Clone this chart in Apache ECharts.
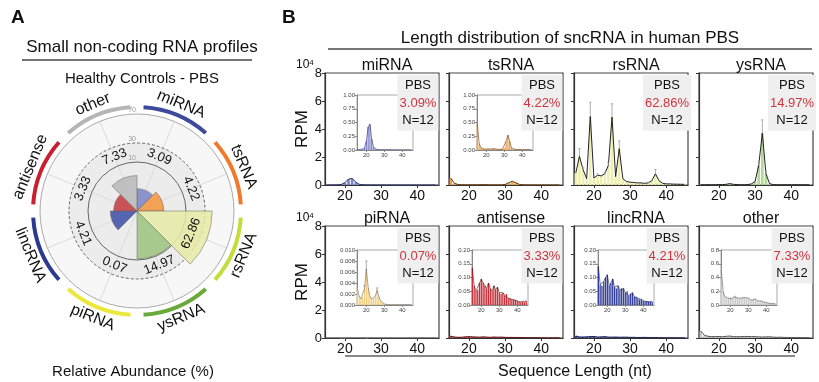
<!DOCTYPE html>
<html>
<head>
<meta charset="utf-8">
<script src="https://cdn.jsdelivr.net/npm/echarts@6/dist/echarts.min.js"></script>
<style>
  html, body { margin: 0; padding: 0; background: #fff; }
  #chart { width: 819px; height: 382px; }
</style>
</head>
<body>
<div id="chart"></div>
<script>
// ---- panel A: relative abundance (%) ----
const polarCats = ['miRNA', 'tsRNA', 'rsRNA', 'ysRNA', 'piRNA', 'lincRNA', 'antisense', 'other']
const polarValues = [3.09, 4.22, 62.86, 14.97, 0.07, 4.21, 3.33, 7.33]
const ringValues = [10, 30, 70]

// ---- panel B: length distribution, RPM x10^4 ----
const lengths = [15, 16, 17, 18, 19, 20, 21, 22, 23, 24, 25, 26, 27, 28, 29, 30,
  31, 32, 33, 34, 35, 36, 37, 38, 39, 40, 41, 42, 43, 44, 45]
const miRNA = [0.004, 0.004, 0.006, 0.015, 0.04, 0.16, 0.42, 0.47, 0.2, 0.05, 0.015, 0.008, 0.006, 0.005, 0.004, 0.004,
  0.003, 0.003, 0.003, 0.003, 0.002, 0.002, 0.002, 0.002, 0.002, 0.002, 0.002, 0.002, 0.002, 0.002, 0.002]
const tsRNA = [0.48, 0.12, 0.04, 0.02, 0.015, 0.015, 0.02, 0.015, 0.02, 0.035, 0.02, 0.01, 0.01, 0.012, 0.015, 0.04,
  0.16, 0.27, 0.16, 0.04, 0.015, 0.01, 0.008, 0.008, 0.008, 0.006, 0.006, 0.006, 0.005, 0.005, 0.005]
const rsRNA = [0.85, 2.05, 1.1, 0.45, 4.9, 0.5, 0.7, 0.65, 0.8, 1.4, 4.85, 0.6, 2.6, 0.45, 0.25, 0.2,
  0.18, 0.15, 0.15, 0.12, 0.15, 0.3, 0.8, 0.3, 0.12, 0.08, 0.08, 0.06, 0.06, 0.05, 0.05]
const rsRNAErr = [0.1, 0.55, 0.15, 0, 1.0, 0, 0.1, 0, 0.1, 0.2, 0.95, 0, 0.55, 0, 0, 0,
  0, 0, 0, 0, 0.05, 0.05, 0.3, 0.05, 0, 0, 0, 0, 0, 0, 0]
const ysRNA = [0.02, 0.02, 0.02, 0.02, 0.02, 0.03, 0.03, 0.05, 0.1, 0.05, 0.03, 0.02, 0.02, 0.03, 0.08, 0.25,
  1.4, 3.7, 0.8, 0.1, 0.03, 0.02, 0.02, 0.02, 0.02, 0.02, 0.02, 0.02, 0.02, 0.02, 0.02]
const ysRNAErr = [0, 0, 0, 0, 0, 0, 0, 0, 0, 0, 0, 0, 0, 0, 0, 0,
  0.3, 0.95, 0.2, 0, 0, 0, 0, 0, 0, 0, 0, 0, 0, 0, 0]
const piRNA = [0.003, 0.0016, 0.0011, 0.0014, 0.003, 0.0066, 0.0032, 0.0016, 0.0011, 0.0012, 0.0016, 0.0027, 0.0015, 0.0007, 0.0004, 0.0002,
  0.0001, 0.00005, 0.00005, 0.00005, 0.00005, 0.00005, 0.00005, 0.00005, 0.00005, 0.00005, 0.00005, 0.00005, 0.00005, 0.00005, 0.00005]
const piRNAErr = [0, 0, 0, 0, 0.0005, 0.0014, 0, 0, 0, 0, 0, 0.0004, 0, 0, 0, 0,
  0, 0, 0, 0, 0, 0, 0, 0, 0, 0, 0, 0, 0, 0, 0]
const antisense = [0.135, 0.07, 0.05, 0.055, 0.08, 0.095, 0.08, 0.07, 0.06, 0.08, 0.06, 0.05, 0.07, 0.055, 0.065, 0.045,
  0.04, 0.045, 0.035, 0.04, 0.025, 0.025, 0.02, 0.02, 0.018, 0.015, 0.012, 0.01, 0.012, 0.01, 0.015]
const lincRNA = [0.14, 0.075, 0.07, 0.085, 0.1, 0.11, 0.07, 0.08, 0.095, 0.065, 0.06, 0.07, 0.055, 0.06, 0.06, 0.045,
  0.05, 0.035, 0.04, 0.045, 0.03, 0.03, 0.025, 0.02, 0.02, 0.015, 0.013, 0.015, 0.012, 0.012, 0.012]
const other = [0.5, 0.19, 0.12, 0.1, 0.1, 0.11, 0.09, 0.12, 0.14, 0.1, 0.09, 0.1, 0.11, 0.11, 0.1, 0.1,
  0.08, 0.07, 0.08, 0.09, 0.06, 0.05, 0.06, 0.04, 0.04, 0.03, 0.03, 0.025, 0.02, 0.02, 0.02]

const panelNames = ['miRNA', 'tsRNA', 'rsRNA', 'ysRNA', 'piRNA', 'antisense', 'lincRNA', 'other']
const panelShares = ['3.09%', '4.22%', '62.86%', '14.97%', '0.07%', '3.33%', '4.21%', '7.33%']
const panelN = 'N=12'
const xTicks = [20, 30, 40]
// inset y ranges: [max, interval, decimals]
const insetAxes = {
  miRNA: [1, 0.25, 2], tsRNA: [1, 0.25, 2], piRNA: [0.01, 0.002, 3],
  antisense: [0.2, 0.05, 2], lincRNA: [0.2, 0.05, 2], other: [0.8, 0.2, 1]
}

const rpm = { miRNA, tsRNA, rsRNA, ysRNA, piRNA, antisense, lincRNA, other }
const errs = { rsRNA: rsRNAErr, ysRNA: ysRNAErr, piRNA: piRNAErr }

// styles
const FONT = '"Liberation Sans", Arial, sans-serif'
const fillColors = {
  miRNA: '#7f86c8', tsRNA: '#f5a04b', rsRNA: '#eef0b0', ysRNA: '#b4d896',
  piRNA: '#f2cf80', antisense: '#c9303a', lincRNA: '#34409a', other: '#c8c8c8'
}
const lineColors = {
  miRNA: '#2b3170', tsRNA: '#6b3d10', rsRNA: '#222', ysRNA: '#222',
  piRNA: '#666', antisense: '#5a1015', lincRNA: '#1a1f50', other: '#555'
}
const sectorColors = ['#7c85c8', '#f4943c', '#e6eba4', '#9ec47e', '#e8e060', '#3c4ea6', '#c2393e', '#b8b8b8']
const arcColors = ['#3d4a9c', '#f07a2c', '#c6dc3c', '#6aaa3a', '#ebe83a', '#2b3990', '#c8202f', '#b5b5b5']

const colLeft = [325, 449, 574, 699]
const rowTop = [73, 226]
const panelW = 114, panelH = 112
const insetLeft = [357, 477, null, null, 357, 472, 598, 721]
const insetTop = [95, 250]
const CX = 137, CY = 211
const ringRadii = [49, 68, 97]

// sector radius in px (compressed scale like the reference)
const toRadius = v => 20 * Math.log(1 + v / 1.5)

function errRender(params, api) {
  const x = api.value(0), y = api.value(1), e = api.value(2)
  if (!e) return
  const p0 = api.coord([x, y]), p1 = api.coord([x, y + e])
  const st = { stroke: '#999', lineWidth: 0.8 }
  return {
    type: 'group',
    children: [
      { type: 'line', shape: { x1: p0[0], y1: p0[1], x2: p1[0], y2: p1[1] }, style: st },
      { type: 'line', shape: { x1: p1[0] - 1.2, y1: p1[1], x2: p1[0] + 1.2, y2: p1[1] }, style: st }
    ]
  }
}

const grids = [], xAxes = [], yAxes = [], series = [], titles = []

function addSeries(name, axisIdx, barW, lineW) {
  const vals = rpm[name]
  series.push({
    type: 'bar', xAxisIndex: axisIdx, yAxisIndex: axisIdx, silent: true,
    barWidth: barW, itemStyle: { color: fillColors[name] },
    data: lengths.map((x, j) => [x, vals[j]])
  })
  series.push({
    type: 'line', xAxisIndex: axisIdx, yAxisIndex: axisIdx, silent: true,
    symbol: 'none', lineStyle: { color: lineColors[name], width: lineW },
    data: lengths.map((x, j) => [x, vals[j]]), z: 3
  })
  if (errs[name]) {
    series.push({
      type: 'custom', xAxisIndex: axisIdx, yAxisIndex: axisIdx, silent: true,
      renderItem: errRender, z: 4,
      data: lengths.map((x, j) => [x, vals[j], errs[name][j]])
    })
  }
}

panelNames.forEach((name, i) => {
  const row = i < 4 ? 0 : 1, col = i % 4
  const left = colLeft[col], top = rowTop[row]
  const gi = grids.length
  grids.push({ left, top, width: panelW, height: panelH, show: true, borderColor: '#444', borderWidth: 1.2 })
  xAxes.push({
    gridIndex: gi, type: 'value', min: 14.5, max: 46,
    axisLine: { lineStyle: { color: '#333', width: 1.2 } },
    axisTick: { customValues: xTicks, length: 3, lineStyle: { color: '#333' } },
    axisLabel: { customValues: xTicks, fontSize: 14, color: '#111', fontFamily: FONT, margin: 4 },
    splitLine: { show: false }
  })
  yAxes.push({
    gridIndex: gi, type: 'value', min: 0, max: 8, interval: 2,
    axisLine: { show: true, lineStyle: { color: '#333', width: 1.2 } },
    axisTick: { show: true, length: 3, lineStyle: { color: '#333' } },
    axisLabel: { show: col === 0, fontSize: 13, color: '#111', fontFamily: FONT, margin: 3 },
    splitLine: { show: false },
    name: col === 0 ? 'RPM' : '', nameLocation: 'middle', nameGap: 11, nameRotate: 90,
    nameTextStyle: { fontSize: 17, color: '#111', fontFamily: FONT }
  })
  addSeries(name, gi, 2.6, 1)

  titles.push({
    text: name, left: left + panelW / 2, top: top - 20, textAlign: 'center',
    textStyle: { fontSize: 16, fontWeight: 'normal', color: '#111', fontFamily: FONT }
  })
  titles.push({
    text: 'PBS\n{r|' + panelShares[i] + '}\n' + panelN,
    left: left + panelW - 23, top: top + 2, textAlign: 'center',
    backgroundColor: '#efefef', padding: [2, 2, 1, 2],
    textStyle: {
      fontSize: 13, lineHeight: 17.5, fontWeight: 'normal', color: '#111', fontFamily: FONT,
      rich: { r: { fontSize: 13, lineHeight: 17.5, color: '#d0343f', fontFamily: FONT } }
    }
  })

  if (insetAxes[name]) {
    const [ymax, yint, dec] = insetAxes[name]
    const ii = grids.length
    grids.push({ left: insetLeft[i], top: insetTop[row], width: 56, height: 55, show: true, borderColor: '#aaa', borderWidth: 1, backgroundColor: '#fff' })
    xAxes.push({
      gridIndex: ii, type: 'value', min: 14.8, max: 46,
      axisLine: { lineStyle: { color: '#888', width: 1 } },
      axisTick: { customValues: xTicks, length: 2, lineStyle: { color: '#888' } },
      axisLabel: { customValues: xTicks, fontSize: 6, color: '#444', fontFamily: FONT, margin: 2 },
      splitLine: { show: false }
    })
    yAxes.push({
      gridIndex: ii, type: 'value', min: 0, max: ymax, interval: yint,
      axisLine: { show: true, lineStyle: { color: '#888', width: 1 } },
      axisTick: { show: true, length: 2, lineStyle: { color: '#888' } },
      axisLabel: { fontSize: 6, color: '#444', fontFamily: FONT, margin: 2, formatter: v => v.toFixed(dec) },
      splitLine: { show: false }
    })
    addSeries(name, ii, 1.3, 0.6)
  }
})

// 10^4 exponents over the first column
rowTop.forEach(t => {
  titles.push({
    text: '{a|10}{b|4}', left: 296, top: t - 14, padding: 0,
    textStyle: {
      fontWeight: 'normal',
      rich: {
        a: { fontSize: 12, fontWeight: 'normal', color: '#111', fontFamily: FONT, verticalAlign: 'bottom' },
        b: { fontSize: 8, fontWeight: 'normal', color: '#111', fontFamily: FONT, verticalAlign: 'top' }
      }
    }
  })
})

const plainText = (text, left, top, size) => ({
  text, left, top, textAlign: 'center',
  textStyle: { fontSize: size, fontWeight: 'normal', color: '#111', fontFamily: FONT }
})

titles.push(
  { text: 'A', left: 6, top: 3, textStyle: { fontSize: 19, fontWeight: 'bold', color: '#111', fontFamily: FONT } },
  { text: 'B', left: 277, top: 3, textStyle: { fontSize: 19, fontWeight: 'bold', color: '#111', fontFamily: FONT } },
  plainText('Small non-coding RNA profiles', 137, 34, 17),
  plainText('Healthy Controls - PBS', 137, 66, 15),
  plainText('Relative Abundance (%)', 128, 359, 15),
  plainText('Length distribution of sncRNA in human PBS', 565, 25, 17),
  plainText('Sequence Length (nt)', 570, 359, 16)
)

// ---- polar components for panel A ----
const polars = [
  { center: [CX, CY], radius: 97 },          // 0 background + spokes + outer ring
  { center: [CX, CY], radius: 68 },          // 1 dashed ring
  { center: [CX, CY], radius: 49 },          // 2 inner ring
  { center: [CX, CY], radius: 97 },          // 3 ring labels
  { center: [CX, CY], radius: 104 },         // 4 data sectors
  { center: [CX, CY], radius: [49, 68] },    // 5 value labels
  { center: [CX, CY], radius: [102, 106] },  // 6 coloured arcs
  { center: [CX, CY], radius: [108, 123] }   // 7 category names
]
const hiddenAngle = (pi, extra) => Object.assign({
  polarIndex: pi, type: 'category', data: polarCats, startAngle: 90,
  axisLine: { show: false }, axisTick: { show: false }, axisLabel: { show: false }, splitLine: { show: false }
}, extra || {})
const hiddenRadius = (pi, max, extra) => Object.assign({
  polarIndex: pi, type: 'value', min: 0, max,
  axisLine: { show: false }, axisTick: { show: false }, axisLabel: { show: false }, splitLine: { show: false }
}, extra || {})

const angleAxes = [
  hiddenAngle(0, {
    startAngle: 67.5,
    axisLine: { show: true, lineStyle: { color: '#aaa', width: 1 } },
    splitLine: { show: true, lineStyle: { color: '#dcdcdc', width: 1 } }
  }),
  hiddenAngle(1, { axisLine: { show: true, lineStyle: { color: '#666', width: 1, type: [3, 2] } } }),
  hiddenAngle(2, { axisLine: { show: true, lineStyle: { color: '#666', width: 1 } } }),
  hiddenAngle(3), hiddenAngle(4), hiddenAngle(5), hiddenAngle(6), hiddenAngle(7)
]
const radiusAxes = [
  hiddenRadius(0, 97, {
    axisTick: { show: false, customValues: [0, 68, 97] },
    splitArea: { show: true, areaStyle: { color: ['#ececec', '#f7f7f7'] } }
  }),
  hiddenRadius(1, 68), hiddenRadius(2, 49),
  hiddenRadius(3, 97, {
    axisLabel: {
      show: true, customValues: ringRadii, fontSize: 7, color: '#999', fontFamily: FONT,
      margin: 1, verticalAlign: 'bottom',
      formatter: v => String(ringValues[ringRadii.indexOf(v)])
    }
  }),
  hiddenRadius(4, 104), hiddenRadius(5, 1), hiddenRadius(6, 1), hiddenRadius(7, 1)
]

series.push({
  type: 'bar', coordinateSystem: 'polar', polarIndex: 4, barCategoryGap: '0%', silent: true,
  data: polarValues.map((v, i) => ({ value: toRadius(v), itemStyle: { color: sectorColors[i] } })),
  itemStyle: { borderColor: '#666', borderWidth: 0.6, opacity: 0.85 }, z: 3
})
series.push({
  type: 'bar', coordinateSystem: 'polar', polarIndex: 5, barCategoryGap: '0%', silent: true,
  data: polarValues.map(() => 1), itemStyle: { color: 'rgba(0,0,0,0)' }, z: 5,
  label: {
    show: true, position: 'middle', rotate: 'tangential', fontSize: 13, color: '#111', fontFamily: FONT,
    formatter: p => polarValues[p.dataIndex].toFixed(2)
  }
})
series.push({
  type: 'bar', coordinateSystem: 'polar', polarIndex: 6, barCategoryGap: '16%', silent: true,
  data: arcColors.map(c => ({ value: 1, itemStyle: { color: c } }))
})
series.push({
  type: 'bar', coordinateSystem: 'polar', polarIndex: 7, barCategoryGap: '0%', silent: true,
  data: polarCats.map(() => 1), itemStyle: { color: 'rgba(0,0,0,0)' },
  label: {
    show: true, position: 'middle', rotate: 'tangential', fontSize: 16, color: '#111', fontFamily: FONT,
    formatter: p => polarCats[p.dataIndex]
  }
})

const chart = echarts.init(document.getElementById('chart'))
chart.setOption({
  animation: false,
  backgroundColor: '#fff',
  title: titles,
  grid: grids,
  xAxis: xAxes,
  yAxis: yAxes,
  polar: polars,
  angleAxis: angleAxes,
  radiusAxis: radiusAxes,
  series,
  graphic: [
    { type: 'line', shape: { x1: 22, y1: 60, x2: 252, y2: 60 }, style: { stroke: '#444', lineWidth: 1.5 } },
    { type: 'line', shape: { x1: 328, y1: 49, x2: 812, y2: 49 }, style: { stroke: '#777', lineWidth: 2 } },
    { type: 'line', shape: { x1: 345, y1: 356, x2: 795, y2: 356 }, style: { stroke: '#888', lineWidth: 2 } }
  ]
})
window.addEventListener('resize', () => chart.resize())
</script>
</body>
</html>
